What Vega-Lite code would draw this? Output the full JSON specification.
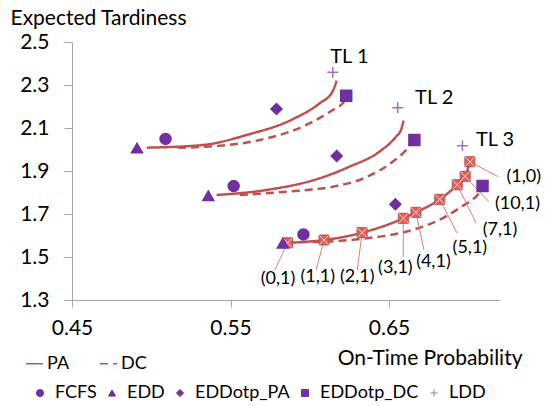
{
  "$schema": "https://vega.github.io/schema/vega-lite/v6.json",
  "width": 428,
  "height": 258,
  "autosize": {"type": "none"},
  "padding": {"left": 72, "top": 42, "right": 45, "bottom": 106},
  "config": {
    "font": "Lato",
    "view": {"stroke": null},
    "axis": {
      "grid": false,
      "domainColor": "#A6A6A6",
      "tickColor": "#A6A6A6",
      "labelColor": "#000000",
      "titleColor": "#000000",
      "labelFontSize": 21,
      "titleFontSize": 21,
      "titleFontWeight": "normal",
      "labelFlush": false
    },
    "legend": {
      "labelFontSize": 18,
      "labelColor": "#000000",
      "padding": 0,
      "titlePadding": 0
    }
  },
  "datasets": {
    "curves": [
      {"tl": "TL1", "style": "PA", "x": 0.4972, "y": 2.0084},
      {"tl": "TL1", "style": "PA", "x": 0.5326, "y": 2.0209},
      {"tl": "TL1", "style": "PA", "x": 0.5601, "y": 2.0674},
      {"tl": "TL1", "style": "PA", "x": 0.5892, "y": 2.1405},
      {"tl": "TL1", "style": "PA", "x": 0.6062, "y": 2.2149},
      {"tl": "TL1", "style": "PA", "x": 0.6143, "y": 2.2688},
      {"tl": "TL1", "style": "PA", "x": 0.6170, "y": 2.3200},
      {"tl": "TL1", "style": "DC", "x": 0.5169, "y": 2.0084},
      {"tl": "TL1", "style": "DC", "x": 0.5349, "y": 2.0130},
      {"tl": "TL1", "style": "DC", "x": 0.5684, "y": 2.0442},
      {"tl": "TL1", "style": "DC", "x": 0.5978, "y": 2.1140},
      {"tl": "TL1", "style": "DC", "x": 0.6145, "y": 2.1837},
      {"tl": "TL1", "style": "DC", "x": 0.6208, "y": 2.2149},
      {"tl": "TL1", "style": "DC", "x": 0.6257, "y": 2.2688},
      {"tl": "TL2", "style": "PA", "x": 0.5412, "y": 1.7884},
      {"tl": "TL2", "style": "PA", "x": 0.5726, "y": 1.8116},
      {"tl": "TL2", "style": "PA", "x": 0.6062, "y": 1.8660},
      {"tl": "TL2", "style": "PA", "x": 0.6250, "y": 1.9200},
      {"tl": "TL2", "style": "PA", "x": 0.6439, "y": 1.9898},
      {"tl": "TL2", "style": "PA", "x": 0.6544, "y": 2.0595},
      {"tl": "TL2", "style": "PA", "x": 0.6575, "y": 2.0907},
      {"tl": "TL2", "style": "PA", "x": 0.6592, "y": 2.1340},
      {"tl": "TL2", "style": "DC", "x": 0.5559, "y": 1.7884},
      {"tl": "TL2", "style": "DC", "x": 0.5852, "y": 1.8037},
      {"tl": "TL2", "style": "DC", "x": 0.6145, "y": 1.8270},
      {"tl": "TL2", "style": "DC", "x": 0.6355, "y": 1.8707},
      {"tl": "TL2", "style": "DC", "x": 0.6523, "y": 1.9433},
      {"tl": "TL2", "style": "DC", "x": 0.6607, "y": 1.9977},
      {"tl": "TL2", "style": "DC", "x": 0.6638, "y": 2.0288},
      {"tl": "TL3", "style": "PA", "x": 0.586, "y": 1.566, "lab": "(0,1)", "ex": 0.578, "ey": 1.440, "lx": 0.580, "ly": 1.396},
      {"tl": "TL3", "style": "PA", "x": 0.609, "y": 1.579, "lab": "(1,1)", "ex": 0.604, "ey": 1.440, "lx": 0.605, "ly": 1.408},
      {"tl": "TL3", "style": "PA", "x": 0.633, "y": 1.613, "lab": "(2,1)", "ex": 0.630, "ey": 1.440, "lx": 0.630, "ly": 1.408},
      {"tl": "TL3", "style": "PA", "x": 0.659, "y": 1.680, "lab": "(3,1)", "ex": 0.659, "ey": 1.501, "lx": 0.654, "ly": 1.447},
      {"tl": "TL3", "style": "PA", "x": 0.667, "y": 1.708, "lab": "(4,1)", "ex": 0.672, "ey": 1.533, "lx": 0.678, "ly": 1.478},
      {"tl": "TL3", "style": "PA", "x": 0.682, "y": 1.768, "lab": "(5,1)", "ex": 0.693, "ey": 1.610, "lx": 0.701, "ly": 1.540},
      {"tl": "TL3", "style": "PA", "x": 0.693, "y": 1.836, "lab": "(7,1)", "ex": 0.705, "ey": 1.657, "lx": 0.720, "ly": 1.626},
      {"tl": "TL3", "style": "PA", "x": 0.698, "y": 1.875, "lab": "(10,1)", "ex": 0.713, "ey": 1.757, "lx": 0.731, "ly": 1.745},
      {"tl": "TL3", "style": "PA", "x": 0.701, "y": 1.943, "lab": "(1,0)", "ex": 0.719, "ey": 1.873, "lx": 0.735, "ly": 1.873},
      {"tl": "TL3", "style": "DC", "x": 0.5936, "y": 1.5698},
      {"tl": "TL3", "style": "DC", "x": 0.6081, "y": 1.5712},
      {"tl": "TL3", "style": "DC", "x": 0.6334, "y": 1.5851},
      {"tl": "TL3", "style": "DC", "x": 0.6607, "y": 1.6177},
      {"tl": "TL3", "style": "DC", "x": 0.6816, "y": 1.6721},
      {"tl": "TL3", "style": "DC", "x": 0.6963, "y": 1.7372},
      {"tl": "TL3", "style": "DC", "x": 0.7068, "y": 1.7963},
      {"tl": "TL3", "style": "DC", "x": 0.7120, "y": 1.8549}
    ],
    "pts": [
      {"tl": "TL1", "method": "FCFS", "x": 0.509, "y": 2.049},
      {"tl": "TL1", "method": "EDD", "x": 0.491, "y": 2.007},
      {"tl": "TL1", "method": "EDDotp_PA", "x": 0.579, "y": 2.188},
      {"tl": "TL1", "method": "EDDotp_DC", "x": 0.623, "y": 2.250},
      {"tl": "TL1", "method": "LDD", "x": 0.6145, "y": 2.359},
      {"tl": "TL2", "method": "FCFS", "x": 0.552, "y": 1.830},
      {"tl": "TL2", "method": "EDD", "x": 0.536, "y": 1.785},
      {"tl": "TL2", "method": "EDDotp_PA", "x": 0.617, "y": 1.970},
      {"tl": "TL2", "method": "EDDotp_DC", "x": 0.666, "y": 2.044},
      {"tl": "TL2", "method": "LDD", "x": 0.6555, "y": 2.194},
      {"tl": "TL3", "method": "FCFS", "x": 0.596, "y": 1.605},
      {"tl": "TL3", "method": "EDD", "x": 0.583, "y": 1.564},
      {"tl": "TL3", "method": "EDDotp_PA", "x": 0.654, "y": 1.745},
      {"tl": "TL3", "method": "EDDotp_DC", "x": 0.709, "y": 1.830},
      {"tl": "TL3", "method": "LDD", "x": 0.6963, "y": 2.018}
    ],
    "tls": [
      {"name": "TL 1", "x": 0.625, "y": 2.430},
      {"name": "TL 2", "x": 0.6785, "y": 2.2395},
      {"name": "TL 3", "x": 0.7169, "y": 2.044}
    ]
  },
  "layer": [
    {
      "data": {"name": "curves"},
      "mark": {"type": "line", "color": "#C0504D", "strokeWidth": 2.5, "interpolate": "monotone"},
      "encoding": {
        "x": {
          "field": "x", "type": "quantitative",
          "scale": {"domain": [0.45, 0.72], "nice": false, "zero": false},
          "axis": {
            "values": [0.45, 0.55, 0.65], "format": ".2f",
            "tickSize": 7, "labelPadding": 10,
            "title": "On-Time Probability",
            "titleX": 450, "titleY": 64, "titleAlign": "right",
            "titleBaseline": "alphabetic", "titleAnchor": null
          }
        },
        "y": {
          "field": "y", "type": "quantitative",
          "scale": {"domain": [1.3, 2.5], "nice": false, "zero": false},
          "axis": {
            "values": [1.3, 1.5, 1.7, 1.9, 2.1, 2.3, 2.5], "format": ".1f",
            "tickSize": 8, "labelPadding": 15,
            "title": "Expected Tardiness", "titleAngle": 0,
            "titleX": -62, "titleY": -18, "titleAlign": "left",
            "titleBaseline": "alphabetic", "titleAnchor": null
          }
        },
        "detail": {"field": "tl"},
        "strokeDash": {
          "field": "style", "type": "nominal",
          "scale": {"domain": ["PA", "DC"], "range": [[1, 0], [8, 5]]},
          "legend": {
            "title": null, "orient": "none", "direction": "horizontal",
            "legendX": -47, "legendY": 312,
            "symbolType": "stroke", "symbolSize": 289, "symbolStrokeWidth": 1.5,
            "labelOffset": 3, "columnPadding": 27,
            "encode": {"symbols": {"update": {"stroke": {"value": "#F08A4B"}, "strokeWidth": {"value": 1.5}}}}
          }
        }
      }
    },
    {
      "data": {"name": "curves"},
      "transform": [{"filter": "isValid(datum.lab)"}],
      "mark": {"type": "rule", "color": "#E07A76", "strokeWidth": 1},
      "encoding": {
        "x": {"field": "x", "type": "quantitative"},
        "y": {"field": "y", "type": "quantitative"},
        "x2": {"field": "ex"},
        "y2": {"field": "ey"}
      }
    },
    {
      "data": {"name": "curves"},
      "transform": [{"filter": "isValid(datum.lab)"}],
      "mark": {"type": "point", "shape": "square", "size": 100, "filled": true, "fill": "#D9625C", "stroke": "#C0504D", "strokeWidth": 1, "opacity": 1},
      "encoding": {
        "x": {"field": "x", "type": "quantitative"},
        "y": {"field": "y", "type": "quantitative"}
      }
    },
    {
      "data": {"name": "curves"},
      "transform": [{"filter": "isValid(datum.lab)"}],
      "mark": {"type": "point", "shape": "M-1,-1L1,1M-1,1L1,-1", "size": 90, "filled": false, "stroke": "#F7CFCB", "strokeWidth": 1, "opacity": 1},
      "encoding": {
        "x": {"field": "x", "type": "quantitative"},
        "y": {"field": "y", "type": "quantitative"}
      }
    },
    {
      "data": {"name": "curves"},
      "transform": [{"filter": "isValid(datum.lab)"}],
      "mark": {"type": "text", "fontSize": 18, "color": "#000000", "align": "center", "baseline": "middle"},
      "encoding": {
        "x": {"field": "lx", "type": "quantitative"},
        "y": {"field": "ly", "type": "quantitative"},
        "text": {"field": "lab"}
      }
    },
    {
      "data": {"name": "pts"},
      "mark": {"type": "point", "filled": true, "size": 120, "strokeWidth": 1.5, "opacity": 1},
      "encoding": {
        "x": {"field": "x", "type": "quantitative"},
        "y": {"field": "y", "type": "quantitative"},
        "shape": {
          "field": "method", "type": "nominal",
          "scale": {"domain": ["FCFS", "EDD", "EDDotp_PA", "EDDotp_DC", "LDD"], "range": ["circle", "triangle-up", "diamond", "square", "M-1,0H1M0,-1V1"]},
          "legend": {
            "title": null, "orient": "none", "direction": "horizontal", "columns": 5, "gridAlign": "each",
            "legendX": -41, "legendY": 342,
            "symbolSize": 50, "symbolStrokeWidth": 1, "labelOffset": 6, "columnPadding": 6
          }
        },
        "color": {
          "field": "method", "type": "nominal",
          "scale": {"domain": ["FCFS", "EDD", "EDDotp_PA", "EDDotp_DC", "LDD"], "range": ["#7030A0", "#7030A0", "#7030A0", "#7030A0", "#9B72CB"]},
          "legend": {
            "title": null, "orient": "none", "direction": "horizontal", "columns": 5, "gridAlign": "each",
            "legendX": -41, "legendY": 342,
            "symbolSize": 50, "symbolStrokeWidth": 1, "labelOffset": 6, "columnPadding": 6
          }
        },
        "stroke": {
          "field": "method", "type": "nominal",
          "scale": {"domain": ["FCFS", "EDD", "EDDotp_PA", "EDDotp_DC", "LDD"], "range": ["#7030A0", "#7030A0", "#7030A0", "#7030A0", "#9B72CB"]},
          "legend": {
            "title": null, "orient": "none", "direction": "horizontal", "columns": 5, "gridAlign": "each",
            "legendX": -41, "legendY": 342,
            "symbolSize": 50, "symbolStrokeWidth": 1, "labelOffset": 6, "columnPadding": 6
          }
        }
      }
    },
    {
      "data": {"name": "tls"},
      "mark": {"type": "text", "fontSize": 20, "color": "#000000", "align": "center", "baseline": "middle"},
      "encoding": {
        "x": {"field": "x", "type": "quantitative"},
        "y": {"field": "y", "type": "quantitative"},
        "text": {"field": "name"}
      }
    }
  ]
}
